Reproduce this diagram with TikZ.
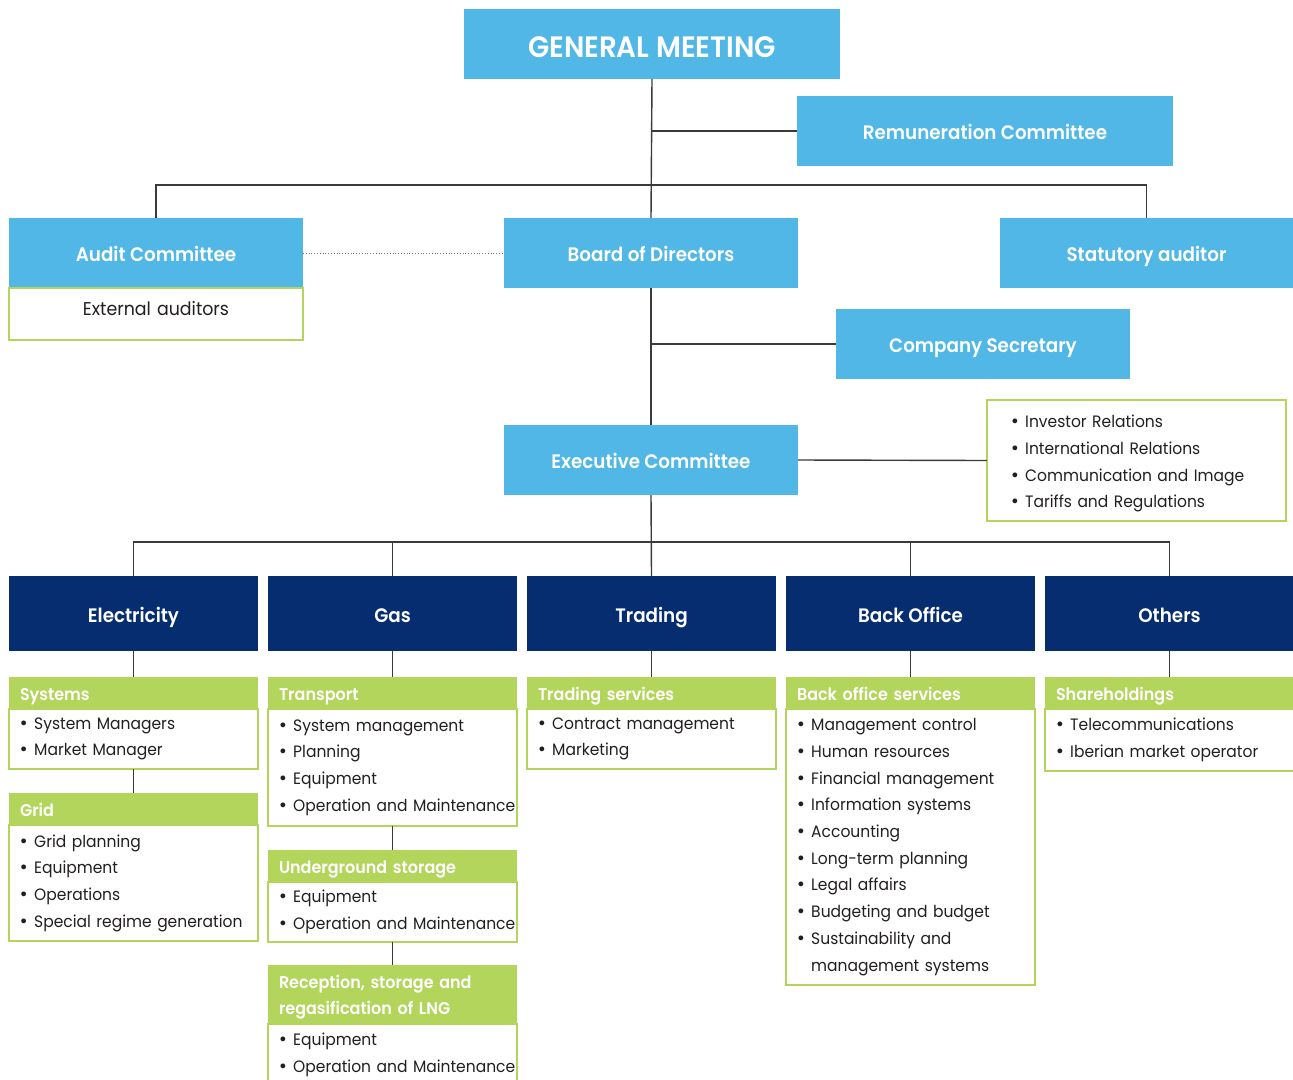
\documentclass[tikz,border=0pt]{standalone}
\usepackage{fontspec}
\setmainfont{Poppins}[FakeStretch=0.94, BoldFont={Poppins SemiBold}]
\newfontfamily\dejavu{DejaVu Sans}
\definecolor{skyblue}{HTML}{50B7E7}
\definecolor{navy}{HTML}{062D6F}
\definecolor{lime}{HTML}{B3D55B}
\definecolor{ink}{HTML}{231F20}
\definecolor{wire}{HTML}{3A3A3A}
\hyphenpenalty=10000
\exhyphenpenalty=10000
% one unbreakable bullet item with left indent
\newcommand\bi[2][10pt]{\mbox{\hspace*{#1}{\dejavu •}\ #2}}
\newcommand\bicont[2][10pt]{\mbox{\hspace*{#1}\hphantom{{\dejavu •}\ }#2}}
\begin{document}
\begin{tikzpicture}[x=1pt,y=-1pt,
  every node/.style={inner sep=0, outer sep=0},
  bluebox/.style={fill=skyblue, text=white, anchor=north west, minimum height=70,
    text height=19, text depth=3, font=\bfseries\fontsize{19.5}{22}\selectfont},
  divbox/.style={fill=navy, text=white, anchor=north west, minimum width=249, minimum height=75,
    text height=20, text depth=3, font=\bfseries\fontsize{19.5}{22}\selectfont},
  hdr/.style={fill=lime, text=white, anchor=north west, minimum height=32, text width=227,
    inner xsep=11, align=left, font=\bfseries\fontsize{17}{26}\selectfont},
  hdrone/.style={hdr, text height=14, text depth=0},
  listbox/.style={draw=lime, line width=1.5, fill=white, text=ink, anchor=north west,
    text width=249, align=left, font=\fontsize{16.5}{26.7}\selectfont},
  wire/.style={draw=wire, line width=1.4}
]
\useasboundingbox (0,0) rectangle (1293,1079);

% governing bodies
\node[bluebox, minimum width=376, text height=28, text depth=2,
  font=\bfseries\fontsize{29.5}{32}\selectfont] (gm) at (464,9) {GENERAL MEETING};
\node[bluebox, minimum width=376] (rem) at (797,96) {Remuneration Committee};
\node[bluebox, minimum width=294] (audit) at (9,218) {Audit Committee};
\node[listbox, text width=294, align=center, minimum height=52, text height=12, text depth=10,
  font=\fontsize{18.5}{22}\selectfont] (ext) at (9,288) {External auditors};
\node[bluebox, minimum width=294] (board) at (504,218) {Board of Directors};
\node[bluebox, minimum width=293] (stat) at (1000,218) {Statutory auditor};
\node[bluebox, minimum width=294] (sec) at (836,309) {Company Secretary};
\node[bluebox, minimum width=294] (exec) at (504,425) {Executive Committee};
\node[listbox, text width=299, minimum height=121] (exl) at (987,400)
  {\rule{0pt}{19pt}\bi[23pt]{Investor Relations}\\\bi[23pt]{International Relations}\\
   \bi[23pt]{Communication and Image}\\\bi[23pt]{Tariffs and Regulations}};

% business units
\node[divbox] (elec) at (9,576) {Electricity};
\node[divbox] (gas) at (268,576) {Gas};
\node[divbox] (trad) at (527,576) {Trading};
\node[divbox] (bo) at (786,576) {Back Office};
\node[divbox] (oth) at (1045,576) {Others};

% Electricity
\node[hdrone] (sys) at (9,677) {Systems};
\node[listbox, minimum height=60] (sysl) at (9,709) {\bi{System Managers}\\\bi{Market Manager}};
\node[hdrone] (grid) at (9,793) {Grid};
\node[listbox, minimum height=116] (gridl) at (9,825)
  {\bi{Grid planning}\\\bi{Equipment}\\\bi{Operations}\\\bi{Special regime generation}};

% Gas
\node[hdrone] (tr) at (268,677) {Transport};
\node[listbox, minimum height=117] (trl) at (268,709)
  {\bi{System management}\\\bi{Planning}\\\bi{Equipment}\\\bi{Operation and Maintenance}};
\node[hdrone] (ug) at (268,850) {Underground storage};
\node[listbox, minimum height=60] (ugl) at (268,882) {\bi{Equipment}\\\bi{Operation and Maintenance}};
\node[hdr, minimum height=59] (lng) at (268,965) {\rule{0pt}{18pt}Reception, storage and\\regasification of LNG};
\node[listbox, minimum height=62] (lngl) at (268,1024) {\bi{Equipment}\\\bi{Operation and Maintenance}};

% Trading
\node[hdrone] (ts) at (527,677) {Trading services};
\node[listbox, minimum height=60] (tsl) at (527,709) {\bi{Contract management}\\\bi{Marketing}};

% Back Office
\node[hdrone] (bos) at (786,677) {Back office services};
\node[listbox, minimum height=276] (bosl) at (786,709)
  {\bi{Management control}\\\bi{Human resources}\\\bi{Financial management}\\\bi{Information systems}\\
   \bi{Accounting}\\\bi{Long-term planning}\\\bi{Legal affairs}\\\bi{Budgeting and budget}\\
   \bi{Sustainability and}\\\bicont{management systems}};

% Others
\node[hdrone] (sh) at (1045,677) {Shareholdings};
\node[listbox, minimum height=62] (shl) at (1045,709) {\bi{Telecommunications}\\\bi{Iberian market operator}};

% connectors
\coordinate (topbus) at (652,185);
\coordinate (unitbus) at (652,542);
\draw[wire] (gm.south) -- (board.north);
\draw[wire] (rem.west) -- (rem.west -| gm.south);
\draw[wire] (audit.north) -- (audit.north |- topbus) -- (stat.north |- topbus) -- (stat.north);
\draw[draw=wire!70, line width=0.8, dotted] (audit.east) -- (board.west);
\draw[wire] (board.south) -- (exec.north);
\draw[wire] (sec.west) -- (sec.west -| board.south);
\draw[wire] (exec.east) -- (exl.west);
\draw[wire] (exec.south) -- (trad.north);
\draw[wire] (elec.north) -- (elec.north |- unitbus) -- (oth.north |- unitbus) -- (oth.north);
\draw[wire] (gas.north) -- (gas.north |- unitbus);
\draw[wire] (bo.north) -- (bo.north |- unitbus);
\draw[wire] (elec.south) -- (elec.south |- sys.north);
\draw[wire] (gas.south) -- (gas.south |- tr.north);
\draw[wire] (trad.south) -- (trad.south |- ts.north);
\draw[wire] (bo.south) -- (bo.south |- bos.north);
\draw[wire] (oth.south) -- (oth.south |- sh.north);
\draw[wire] (sysl.south) -- (sysl.south |- grid.north);
\draw[wire] (trl.south) -- (trl.south |- ug.north);
\draw[wire] (ugl.south) -- (ugl.south |- lng.north);
\end{tikzpicture}
\end{document}
